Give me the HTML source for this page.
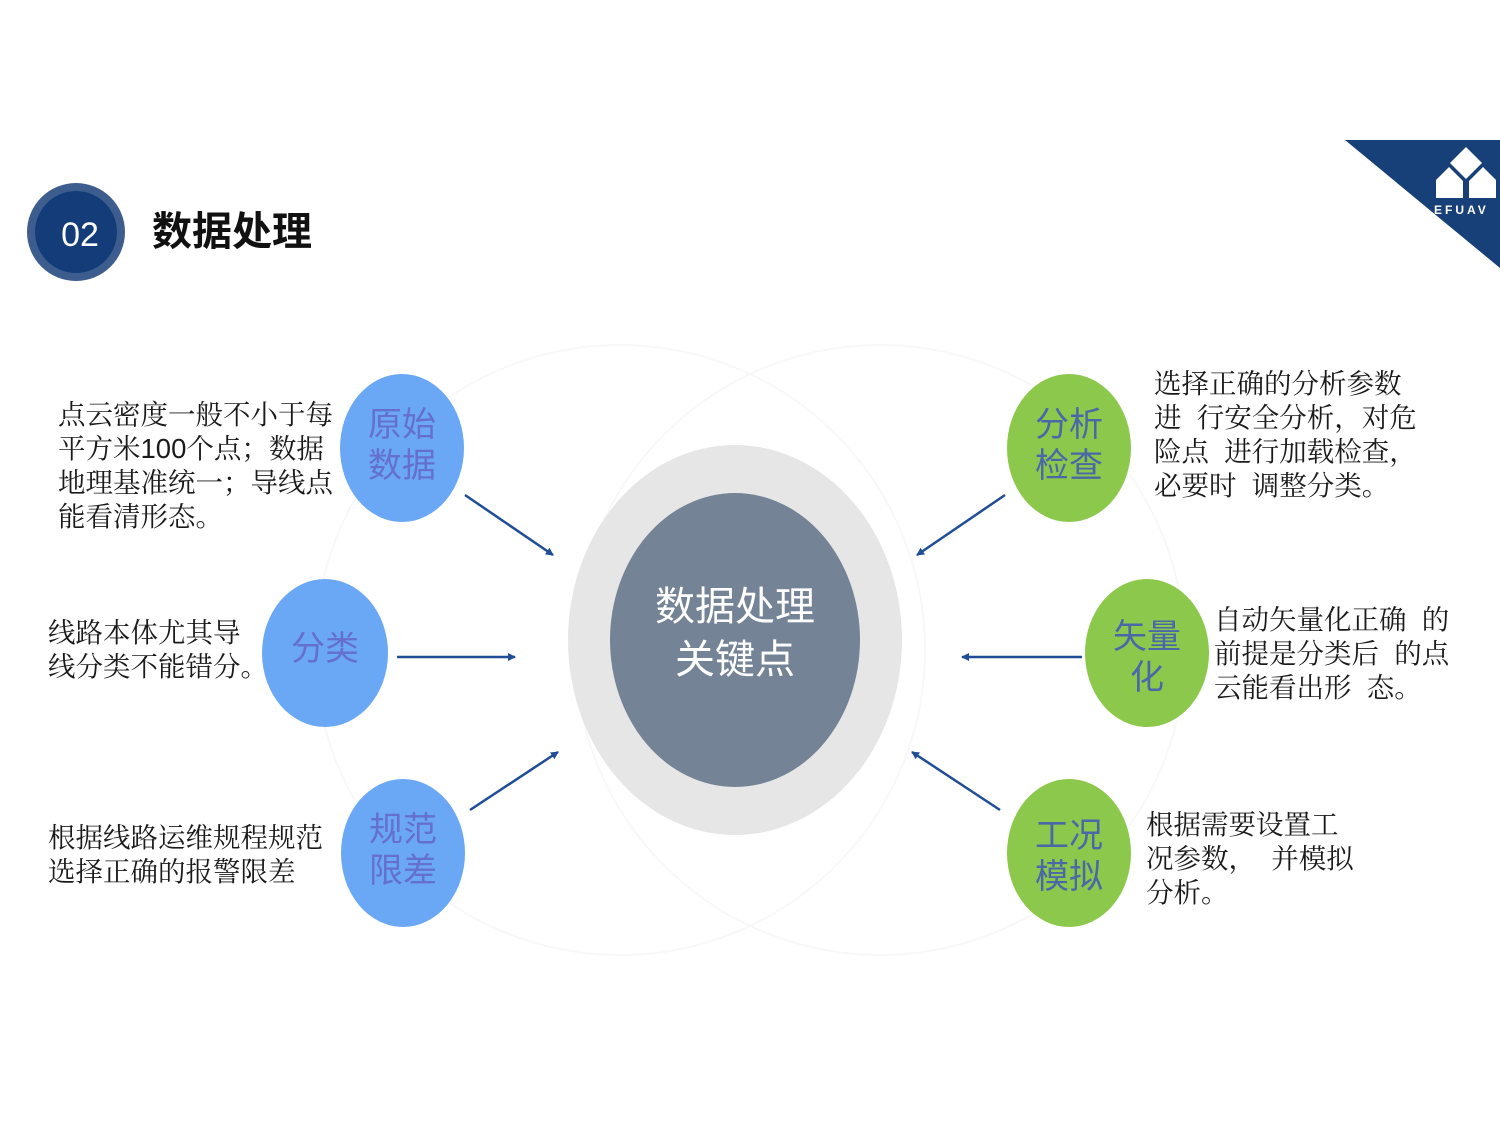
<!DOCTYPE html>
<html><head><meta charset="utf-8"><style>
body{margin:0;width:1500px;height:1125px;background:#fff;position:relative;overflow:hidden;font-family:"Liberation Sans","Noto Sans CJK SC",sans-serif}
.t{position:absolute;white-space:pre;color:#1a1a1a;font-size:27.5px;line-height:34px;font-family:"Liberation Sans","Noto Serif CJK SC",serif}
.n{position:absolute;white-space:pre;text-align:center;font-size:34px;line-height:41px;font-family:"Liberation Sans","Noto Sans CJK SC",sans-serif}
</style></head><body>
<svg width="1500" height="1125" style="position:absolute;left:0;top:0">
<defs><marker id="a" markerWidth="8" markerHeight="8" refX="7" refY="4" orient="auto" markerUnits="userSpaceOnUse"><path d="M0,0 L8,4 L0,8 z" fill="#1f4e96"/></marker></defs>
<circle cx="620" cy="650" r="305" fill="none" stroke="#f8f8f8" stroke-width="2"/>
<circle cx="880" cy="650" r="305" fill="none" stroke="#f8f8f8" stroke-width="2"/>
<polygon points="1345,140 1500,140 1500,268" fill="#173f78"/>
<polygon points="1466,147 1482,163 1466,179 1450,163" fill="#fff"/>
<polygon points="1436,180 1449,167 1463,181 1463,198 1436,198" fill="#fff"/>
<polygon points="1469,181 1483,167 1496,180 1496,198 1469,198" fill="#fff"/>
<text x="1434" y="214" fill="#fff" font-size="12" font-weight="bold" font-family="Liberation Sans" letter-spacing="3">EFUAV</text>
<circle cx="76" cy="232" r="49" fill="#3d5d8e"/>
<circle cx="76" cy="232" r="41" fill="#133c78"/>
<ellipse cx="735" cy="640" rx="167" ry="195" fill="#e6e6e6"/>
<ellipse cx="735" cy="640" rx="125" ry="147" fill="#758396"/>
<g fill="#6aa8f5"><ellipse cx="402" cy="448" rx="62" ry="74"/><ellipse cx="325" cy="653" rx="63" ry="74"/><ellipse cx="403" cy="853" rx="62" ry="74"/></g>
<g fill="#8cc84b"><ellipse cx="1069" cy="448" rx="62" ry="74"/><ellipse cx="1147" cy="653" rx="62" ry="74"/><ellipse cx="1069" cy="853" rx="62" ry="74"/></g>
<g stroke="#1f4e96" stroke-width="2.5" marker-end="url(#a)">
<line x1="465" y1="495" x2="553" y2="555"/><line x1="397" y1="657" x2="515" y2="657"/><line x1="470" y1="810" x2="558" y2="752"/>
<line x1="1005" y1="495" x2="917" y2="555"/><line x1="1082" y1="657" x2="962" y2="657"/><line x1="1000" y1="810" x2="912" y2="752"/>
</g>
</svg>
<div style="position:absolute;left:31px;top:215px;width:98px;text-align:center;color:#fff;font-size:34px;line-height:40px">02</div>
<div style="position:absolute;left:152px;top:208px;font-size:40px;line-height:48px;font-weight:bold;color:#111;font-family:'Liberation Sans','Noto Sans CJK SC',sans-serif">数据处理</div>
<div class="n" style="left:610px;top:581px;width:250px;color:#fff;font-size:40px;line-height:53px">数据处理
关键点</div>
<div class="n" style="left:340px;top:405px;width:124px;color:#6470cc">原始
数据</div>
<div class="n" style="left:262px;top:629px;width:126px;color:#6470cc">分类</div>
<div class="n" style="left:341px;top:810px;width:124px;color:#6470cc">规范
限差</div>
<div class="n" style="left:1007px;top:405px;width:124px;color:#4a68a8">分析
检查</div>
<div class="n" style="left:1085px;top:617px;width:124px;color:#4a68a8">矢量
化</div>
<div class="n" style="left:1007px;top:816px;width:124px;color:#4a68a8">工况
模拟</div>
<div class="t" style="left:58px;top:398px">点云密度一般不小于每
平方米100个点；数据
地理基准统一；导线点
能看清形态。</div>
<div class="t" style="left:48px;top:616px">线路本体尤其导
线分类不能错分。</div>
<div class="t" style="left:48px;top:821px">根据线路运维规程规范
选择正确的报警限差</div>
<div class="t" style="left:1154px;top:367px">选择正确的分析参数
进  行安全分析，对危
险点  进行加载检查，
必要时  调整分类。</div>
<div class="t" style="left:1214px;top:603px">自动矢量化正确  的
前提是分类后  的点
云能看出形  态。</div>
<div class="t" style="left:1146px;top:808px">根据需要设置工
况参数，  并模拟
分析。</div>
</body></html>
